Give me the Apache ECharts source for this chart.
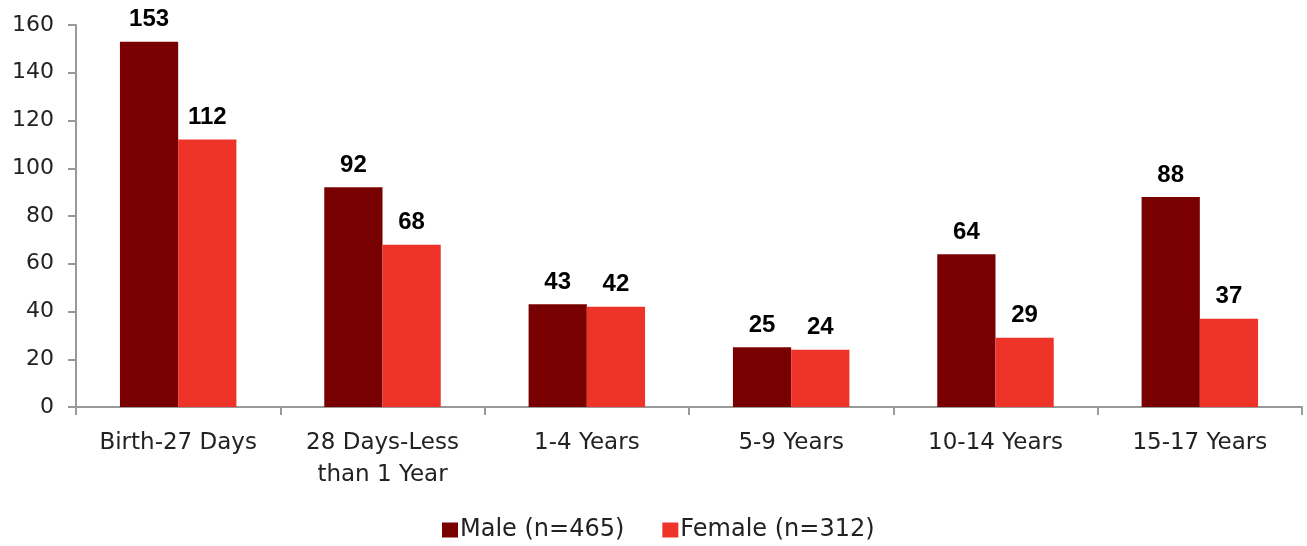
<!DOCTYPE html>
<html>
<head>
<meta charset="utf-8">
<script src="https://cdn.jsdelivr.net/npm/echarts@6/dist/echarts.min.js"></script>
<style>
  html, body { margin: 0; padding: 0; background: #fff; }
  #chart { width: 1307px; height: 546px; }
</style>
</head>
<body>
<div id="chart"></div>
<script>
// age groups on the x axis
const categories = ['Birth-27 Days', '28 Days-Less\nthan 1 Year', '1-4 Years', '5-9 Years', '10-14 Years', '15-17 Years'];
const maleName = 'Male (n=465)';
const femaleName = 'Female (n=312)';
const maleValues = [153, 92, 43, 25, 64, 88];
const femaleValues = [112, 68, 42, 24, 29, 37];

const font = 'DejaVu Sans';
const chart = echarts.init(document.getElementById('chart'));

const barLabel = {
    show: true,
    position: 'top',
    distance: 10,
    color: '#000',
    fontFamily: 'Liberation Sans',
    fontWeight: 'bold',
    fontSize: 24
};

const option = {
    animation: false,
    grid: { left: 76, right: 5, top: 25, bottom: 139, containLabel: false },
    legend: {
        top: 518,
        left: 442,
        padding: 0,
        itemWidth: 16,
        itemHeight: 15,
        itemGap: 38,
        icon: 'rect',
        textStyle: { fontFamily: font, fontSize: 24, color: '#222', padding: [0, 0, 0, -3] },
        data: [maleName, femaleName]
    },
    xAxis: {
        type: 'category',
        data: categories,
        axisLine: { lineStyle: { color: '#999', width: 2 } },
        axisTick: { show: true, interval: 0, length: 8, lineStyle: { color: '#999', width: 2 } },
        axisLabel: { interval: 0, margin: 20, fontFamily: font, fontSize: 23, color: '#222', lineHeight: 32 }
    },
    yAxis: {
        type: 'value',
        min: 0,
        max: 160,
        interval: 20,
        splitLine: { show: false },
        axisLine: { show: true, lineStyle: { color: '#999', width: 2 } },
        axisTick: { show: true, length: 8, lineStyle: { color: '#999', width: 2 } },
        axisLabel: { margin: 22, fontFamily: font, fontSize: 22, color: '#222' }
    },
    series: [
        {
            name: maleName,
            type: 'bar',
            data: maleValues,
            barGap: '0%',
            barCategoryGap: '43%',
            itemStyle: { color: '#780000' },
            label: barLabel
        },
        {
            name: femaleName,
            type: 'bar',
            data: femaleValues,
            itemStyle: { color: '#EE3328' },
            label: barLabel
        }
    ]
};

chart.setOption(option);
</script>
</body>
</html>
